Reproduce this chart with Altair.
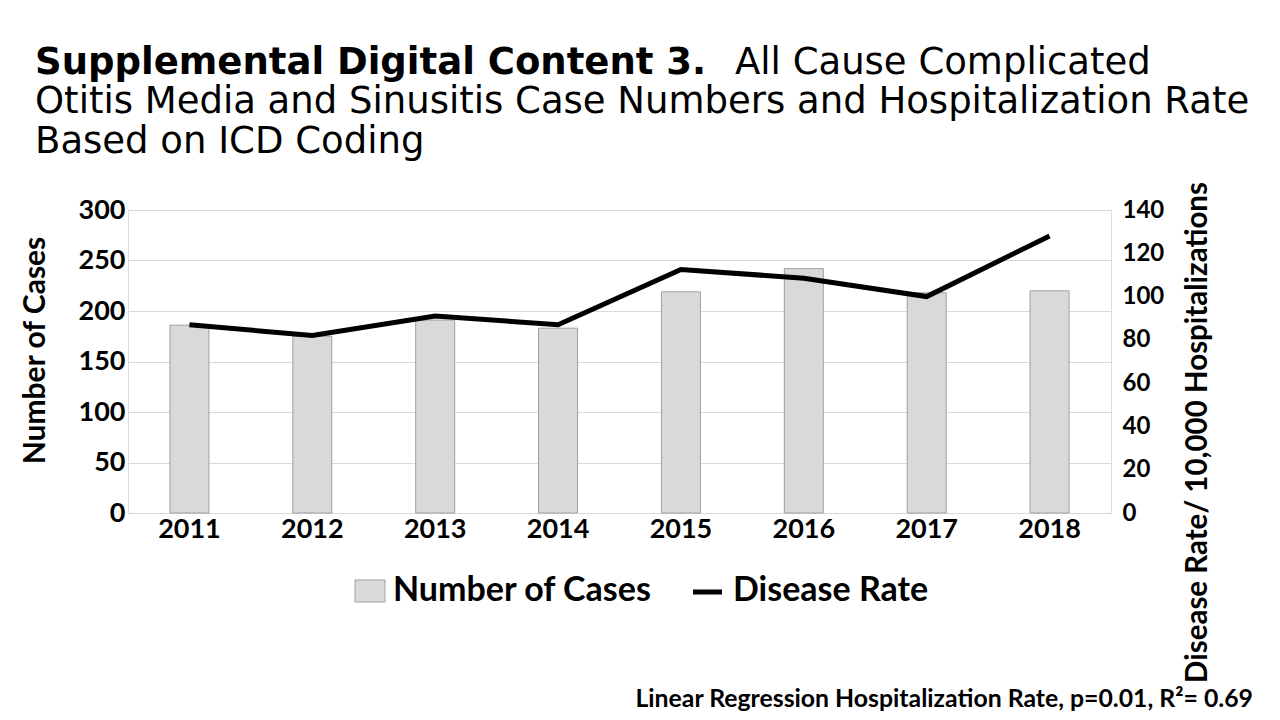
import altair as alt
import pandas as pd

years = ["2011", "2012", "2013", "2014", "2015", "2016", "2017", "2018"]
cases = [186, 175, 191, 183, 219, 242, 218, 220]
rate = [87, 82, 91, 87, 112.5, 108.5, 100, 128]

left_ticks = [0, 50, 100, 150, 200, 250, 300]
right_ticks = [0, 20, 40, 60, 80, 100, 120, 140]

title_bold = "Supplemental Digital Content 3."
title_rest = ["All Cause Complicated",
              "Otitis Media and Sinusitis Case Numbers and Hospitalization Rate",
              "Based on ICD Coding"]
note = "Linear Regression Hospitalization Rate, p=0.01, R\u00b2= 0.69"

df = pd.DataFrame({"year": years, "cases": cases, "rate": rate})
one = pd.DataFrame({"k": [0]})

W, H = 983, 303
AX = "Lato"
TF = "DejaVu Sans"

xenc = alt.X("year:N", title=None, sort=years,
             scale=alt.Scale(paddingInner=0, paddingOuter=0),
             axis=alt.Axis(labelAngle=0, labelFont=AX, labelFontSize=27, labelFontWeight="bold",
                           labelColor="black", labelPadding=3, ticks=False,
                           domainColor="#d9d9d9", domainWidth=1, grid=False))

bars = alt.Chart(df).mark_bar(size=39, color="#d9d9d9", stroke="#a0a0a0", strokeWidth=1).encode(
    x=xenc,
    y=alt.Y("cases:Q", scale=alt.Scale(domain=[0, 300], nice=False),
            axis=alt.Axis(values=left_ticks, title="Number of Cases", labelFont=AX, labelFontSize=27,
                          labelFontWeight="bold", labelColor="black", labelPadding=3, ticks=False,
                          domain=False, grid=True, gridColor="#d9d9d9", gridWidth=1,
                          titleFont=AX, titleFontSize=30, titleFontWeight="bold", titleColor="black",
                          titleAngle=270, titleX=-93, titleY=140, titleBaseline="middle",
                          titleAlign="center"))
)

line = alt.Chart(df).mark_line(color="black", strokeWidth=5).encode(
    x=alt.X("year:N", sort=years),
    y=alt.Y("rate:Q", scale=alt.Scale(domain=[0, 140], nice=False),
            axis=alt.Axis(values=right_ticks, orient="right", title="Disease Rate/ 10,000 Hospitalizations",
                          labelFont=AX, labelFontSize=24, labelFontWeight="bold", labelColor="black",
                          labelPadding=11, ticks=False, domain=False, grid=False,
                          titleFont=AX, titleFontSize=29.5, titleFontWeight="bold", titleColor="black",
                          titleAngle=270, titleX=86, titleY=222, titleBaseline="middle",
                          titleAlign="center"))
)

def txt(s, x, y, size, weight="normal", font=TF, align="left"):
    return alt.Chart(one).mark_text(text=s, font=font, fontSize=size, fontWeight=weight,
                                    align=align, baseline="alphabetic", color="black").encode(
        x=alt.value(x), y=alt.value(y))

ox, oy = 128, 210
texts = [
    txt(title_bold, 35 - ox, 74 - oy, 37, "bold"),
    txt(title_rest[0], 735 - ox, 74 - oy, 37),
    txt(title_rest[1], 35 - ox, 113 - oy, 37),
    txt(title_rest[2], 35 - ox, 153 - oy, 37),
    txt("Number of Cases", 393 - ox, 601 - oy, 34, "bold", AX),
    txt("Disease Rate", 733 - ox, 601 - oy, 34, "bold", AX),
    txt(note, 1253 - ox, 707 - oy, 24.8, "bold", AX, "right"),
]

leg_rect = alt.Chart(one).mark_rect(color="#d9d9d9", stroke="#a0a0a0", strokeWidth=1).encode(
    x=alt.value(355 - ox), x2=alt.value(385 - ox), y=alt.value(580 - oy), y2=alt.value(602 - oy))
leg_line = alt.Chart(one).mark_rule(color="black", strokeWidth=5).encode(
    x=alt.value(693 - ox), x2=alt.value(722 - ox), y=alt.value(592 - oy))

main = alt.layer(bars, line).resolve_scale(y="independent")

chart = alt.layer(main, leg_rect, leg_line, *texts).properties(
    width=W, height=H,
    autosize=alt.AutoSizeParams(type="none"),
    padding={"left": 120, "top": 202, "right": 161, "bottom": 205},
).configure_view(stroke=None).configure(background="white")

chart.save("out.html", embed_options={"renderer": "svg", "actions": False})
